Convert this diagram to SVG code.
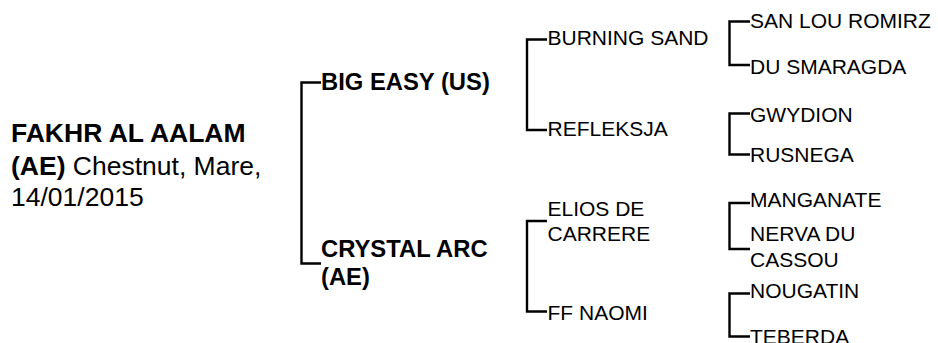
<svg xmlns="http://www.w3.org/2000/svg" width="938" height="343" viewBox="0 0 938 343">
<style>
text{font-family:"Liberation Sans",Arial,sans-serif;fill:#000}
.main{font-size:26.5px}
.b{font-weight:bold}
.sire{font-size:23.8px;font-weight:bold}
.n{font-size:21px}
.br{fill:none;stroke:#000;stroke-width:2.4}
</style>
<rect width="938" height="343" fill="#fff"/>
<g id="connectors">
<path class="br" d="M321 82.5H301.5V263.5H321"/>
<path class="br" d="M547 39.5H527V130H547"/>
<path class="br" d="M547 221H527V311.5H547"/>
<path class="br" d="M750 21.5H729.5V65H750"/>
<path class="br" d="M750 113.5H729.5V154.5H750"/>
<path class="br" d="M750 203H729.5V249H750"/>
<path class="br" d="M750 293.5H729.5V336.5H750"/>
</g>
<g id="fakhr-al-aalam">
<text class="main" x="11" y="142"><tspan class="b">FAKHR AL AALAM</tspan></text>
<text class="main" x="11" y="174.5"><tspan class="b">(AE)</tspan> Chestnut, Mare,</text>
<text class="main" x="11" y="206">14/01/2015</text>
</g>
<g id="big-easy"><text class="sire" x="321" y="90">BIG EASY (US)</text></g>
<g id="crystal-arc"><text class="sire" x="321" y="256.5">CRYSTAL ARC</text><text class="sire" x="321" y="284.5">(AE)</text></g>
<g id="burning-sand"><text class="n" x="547.5" y="45">BURNING SAND</text></g>
<g id="refleksja"><text class="n" x="547.5" y="136">REFLEKSJA</text></g>
<g id="elios-de-carrere"><text class="n" x="547.5" y="216">ELIOS DE</text><text class="n" x="547.5" y="240.5">CARRERE</text></g>
<g id="ff-naomi"><text class="n" x="547.5" y="320">FF NAOMI</text></g>
<g id="san-lou-romirz"><text class="n" x="750" y="28.3">SAN LOU ROMIRZ</text></g>
<g id="du-smaragda"><text class="n" x="750" y="74">DU SMARAGDA</text></g>
<g id="gwydion"><text class="n" x="750" y="121.5">GWYDION</text></g>
<g id="rusnega"><text class="n" x="750" y="162">RUSNEGA</text></g>
<g id="manganate"><text class="n" x="750" y="207.3">MANGANATE</text></g>
<g id="nerva-du-cassou"><text class="n" x="750" y="241">NERVA DU</text><text class="n" x="750" y="266.5">CASSOU</text></g>
<g id="nougatin"><text class="n" x="750" y="298.3">NOUGATIN</text></g>
<g id="teberda"><text class="n" x="750" y="344.3">TEBERDA</text></g>
</svg>
